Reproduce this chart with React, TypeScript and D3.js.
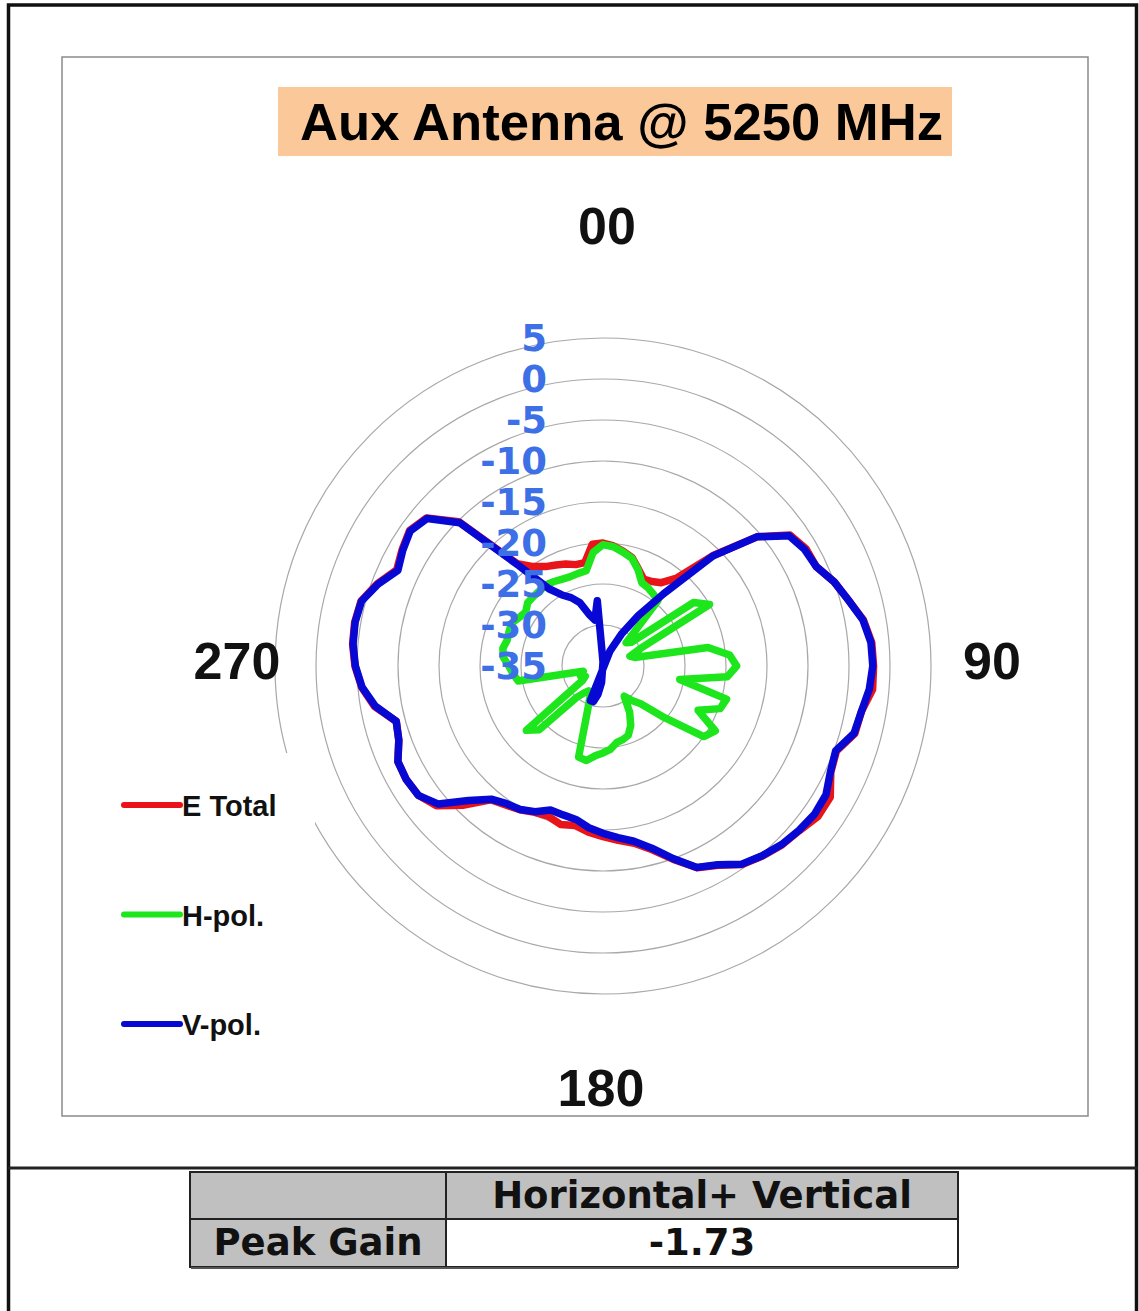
import React, { useEffect } from "react";
import * as d3 from "d3";

// angle categories (degrees, clockwise from top)
const angles = d3.range(0, 360, 5);

// gain values in dB, one per angle
const eTotal = [
  -20.0, -20.3, -20.8, -21.3, -22.4, -23.3, -23.1, -22.6, -21.0, -15.9, -10.5, -7.15,
  -6.4, -6.3, -5.0, -4.0, -2.75, -2.1, -2.0, -2.0, -3.0, -3.2, -4.7, -4.35,
  -3.0, -3.0, -3.75, -4.15, -4.75, -5.45, -6.95, -7.85, -9.9, -11.8, -13.05, -13.65,
  -14.2, -14.65, -15.25, -15.0, -15.5, -15.3, -14.75, -14.3, -13.7, -11.0, -8.5, -7.5,
  -7.3, -7.4, -8.5, -8.9, -6.7, -5.45, -4.75, -4.35, -4.25, -4.45, -5.7, -7.25,
  -6.7, -6.2, -6.9, -10.1, -18.7, -20.2, -21.0, -21.4, -21.75, -22.2, -22.2, -20.1,
];
const hPol = [
  -20.2, -20.4, -20.9, -21.4, -22.5, -23.8, -24.0, -24.3, -24.6, -31.0, -30.5, -21.5,
  -20.0, -30.0, -31.5, -31.0, -22.0, -19.5, -18.7, -19.8, -25.5, -19.4, -19.8, -22.2,
  -19.2, -20.0, -25.2, -28.5, -29.5, -30.5, -28.5, -27.0, -26.0, -25.7, -25.5, -24.8,
  -24.4, -24.0, -23.3, -23.5, -29.8, -31.5, -31.5, -31.0, -30.0, -24.0, -22.8, -32.0,
  -32.5, -32.0, -32.0, -32.5, -24.5, -24.0, -23.5, -22.8, -22.6, -22.9, -22.8, -22.7,
  -23.2, -23.5, -23.0, -23.0, -23.0, -22.9, -23.1, -23.3, -23.4, -23.3, -23.2, -21.1,
];
const vPol = [
  -34.5, -37.0, -38.5, -39.5, -39.5, -33.0, -30.5, -27.5, -23.5, -16.0, -10.5, -7.3,
  -6.6, -6.3, -5.0, -4.0, -2.8, -2.2, -2.1, -2.4, -3.0, -3.3, -4.8, -4.4,
  -3.6, -3.5, -3.8, -4.2, -4.8, -5.5, -7.0, -7.9, -10.0, -12.0, -13.3, -14.0,
  -14.6, -15.2, -16.0, -16.2, -16.3, -15.4, -14.8, -14.5, -13.8, -11.8, -8.8, -7.5,
  -7.3, -7.4, -8.5, -8.9, -6.8, -5.5, -4.8, -4.4, -4.3, -4.5, -5.8, -7.4,
  -6.8, -6.3, -7.0, -10.3, -19.0, -23.5, -25.0, -25.8, -26.8, -28.5, -29.3, -27.0,
];

const ringTicks = [5, 0, -5, -10, -15, -20, -25, -30, -35];
const seriesNames = ["E Total", "H-pol.", "V-pol."];
const seriesColors = ["#e8141a", "#1de61d", "#0808d4"];
const title = "Aux Antenna @ 5250 MHz";
const tableHeader = ["", "Horizontal+ Vertical"];
const tableRow = ["Peak Gain", "-1.73"];

export default function App() {
  useEffect(() => {
    document.body.style.margin = "0";
  }, []);

  const cx = 603;
  const cy = 666;
  // no clamping: values below the centre go through it, as in the original
  const rScale = d3.scaleLinear().domain([-35, 5]).range([0, 328]);

  const line = d3
    .lineRadial<number>()
    .angle((_, i) => (angles[i] * Math.PI) / 180)
    .radius((d) => rScale(d))
    .curve(d3.curveLinearClosed);

  const series = [eTotal, hPol, vPol];
  const arial = "'Liberation Sans', Arial, sans-serif";
  const tahoma = "'DejaVu Sans', Verdana, sans-serif";

  return (
    <svg width={1139} height={1311} style={{ display: "block" }}>
      <rect width={1139} height={1311} fill="#fff" />
      {/* frame */}
      <rect x={8.5} y={5} width={1128} height={1330} fill="none" stroke="#111" strokeWidth={3.5} />
      <line x1={8} x2={1138} y1={1168} y2={1168} stroke="#222" strokeWidth={3} />
      <rect x={62} y={57} width={1026} height={1059} fill="none" stroke="#8a8a8a" strokeWidth={1.5} />

      {/* title */}
      <rect x={278} y={87} width={674} height={69} fill="#fbc999" />
      <text
        x={300}
        y={140}
        textLength={643}
        lengthAdjust="spacingAndGlyphs"
        fontFamily={arial}
        fontWeight="bold"
        fontSize={52}
      >
        {title}
      </text>

      {/* rings */}
      <g transform={`translate(${cx},${cy})`}>
        {ringTicks
          .filter((t) => rScale(t) > 0)
          .map((t) => (
            <circle key={t} r={rScale(t)} fill="none" stroke="#a8a8a8" strokeWidth={1.2} />
          ))}
      </g>

      {/* legend box covers part of the rings */}
      <rect x={110} y={753} width={205} height={305} fill="#fff" />
      {seriesNames.map((name, i) => {
        const y = 805 + i * 109.5;
        return (
          <g key={name}>
            <line x1={124} x2={180} y1={y} y2={y} stroke={seriesColors[i]} strokeWidth={6} strokeLinecap="round" />
            <text x={182} y={y + 11} fontFamily={arial} fontWeight="bold" fontSize={29} fill="#111">
              {name}
            </text>
          </g>
        );
      })}

      {/* series */}
      <g transform={`translate(${cx},${cy})`}>
        {series.map((s, i) => (
          <path
            key={i}
            d={line(s) ?? ""}
            fill="none"
            stroke={seriesColors[i]}
            strokeWidth={7.5}
            strokeLinejoin="round"
          />
        ))}
      </g>

      {/* ring labels */}
      {ringTicks.map((t) => (
        <text
          key={t}
          x={547}
          y={cy - rScale(t)}
          dy="0.36em"
          textAnchor="end"
          fontFamily={tahoma}
          fontWeight="bold"
          fontSize={37}
          fill="#3d6fe6"
        >
          {t}
        </text>
      ))}

      {/* angle labels */}
      <g fontFamily={arial} fontWeight="bold" fontSize={52} fill="#111" textAnchor="middle">
        <text x={607} y={244}>00</text>
        <text x={992} y={679}>90</text>
        <text x={601} y={1106}>180</text>
        <text x={237} y={679}>270</text>
      </g>

      {/* peak gain table */}
      <g fontFamily={tahoma} fontWeight="bold" fontSize={37} fill="#111">
        <rect x={190} y={1172} width={768} height={47} fill="#c0c0c0" />
        <rect x={190} y={1219} width={256} height={48} fill="#c0c0c0" />
        <rect x={446} y={1219} width={512} height={48} fill="#fff" />
        <rect x={190} y={1172} width={768} height={95} fill="none" stroke="#222" strokeWidth={2} />
        <line x1={446} x2={446} y1={1172} y2={1267} stroke="#222" strokeWidth={2} />
        <line x1={190} x2={958} y1={1219} y2={1219} stroke="#222" strokeWidth={2} />
        <line x1={191} x2={958} y1={1268} y2={1268} stroke="#555" strokeWidth={2} />
        <text x={318} y={1208} textAnchor="middle">{tableHeader[0]}</text>
        <text x={702} y={1208} textAnchor="middle">{tableHeader[1]}</text>
        <text x={318} y={1255} textAnchor="middle">{tableRow[0]}</text>
        <text x={702} y={1255} textAnchor="middle">{tableRow[1]}</text>
      </g>
    </svg>
  );
}
